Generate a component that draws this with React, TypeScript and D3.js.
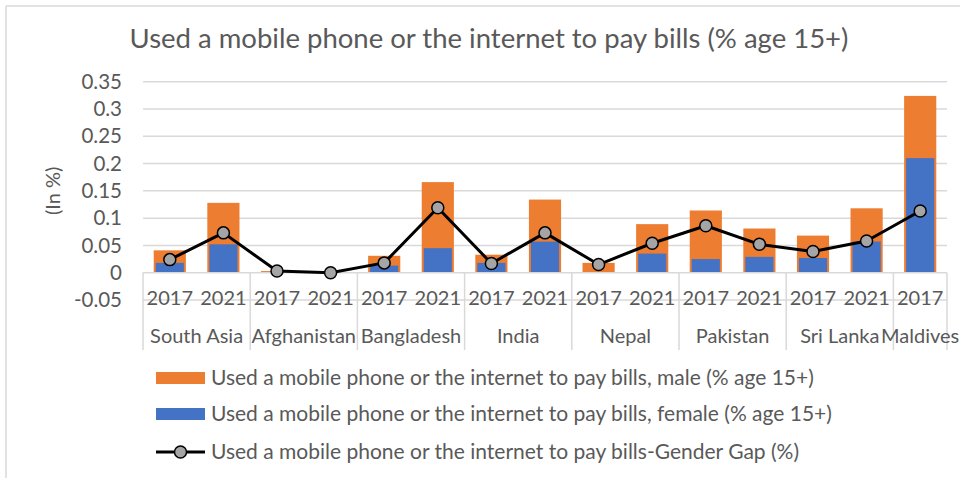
import React from "react";
import * as d3 from "d3";

const groups = ["South Asia", "Afghanistan", "Bangladesh", "India", "Nepal", "Pakistan", "Sri Lanka", "Maldives"];
const groupYears = [["2017", "2021"], ["2017", "2021"], ["2017", "2021"], ["2017", "2021"], ["2017", "2021"], ["2017", "2021"], ["2017", "2021"], ["2017"]];
const maleValues = [0.041, 0.128, 0.003, 0, 0.031, 0.166, 0.033, 0.134, 0.018, 0.089, 0.114, 0.081, 0.068, 0.118, 0.324];
const femaleValues = [0.018, 0.052, 0, 0, 0.013, 0.045, 0.018, 0.057, 0, 0.035, 0.025, 0.029, 0.027, 0.057, 0.21];
const gapValues = [0.024, 0.073, 0.003, 0, 0.018, 0.119, 0.017, 0.073, 0.015, 0.054, 0.086, 0.052, 0.039, 0.058, 0.113];
const yTicks = [-0.05, 0, 0.05, 0.1, 0.15, 0.2, 0.25, 0.3, 0.35];
const yTickLabels = ["-0.05", "0", "0.05", "0.1", "0.15", "0.2", "0.25", "0.3", "0.35"];
const title = "Used a mobile phone or the internet to pay bills (% age 15+)";
const yTitle = "(In %)";
const legendLabels = [
  "Used a mobile phone or the internet to pay bills, male (% age 15+)",
  "Used a mobile phone or the internet to pay bills, female (% age 15+)",
  "Used a mobile phone or the internet to pay bills-Gender Gap (%)",
];

const ORANGE = "#ED7D31";
const BLUE = "#4472C4";
const GRID = "#d9d9d9";
const TEXT = "#595959";
const FONT = "Lato, 'Open Sans', sans-serif";

export default function App() {
  const left = 143, right = 947, top = 81.7, bottom = 300;
  const cats: { label: string; idx: number; group: number }[] = [];
  groupYears.forEach((ys, g) => ys.forEach((y) => cats.push({ label: y, idx: cats.length, group: g })));
  const x = d3.scaleBand<number>().domain(cats.map((c) => c.idx)).range([left, right]).paddingInner(0.4).paddingOuter(0.2);
  const y = d3.scaleLinear().domain([-0.05, 0.35]).range([bottom, top]);
  const step = x.step();
  const bw = x.bandwidth();
  const cx = (i: number) => (x(i) as number) + bw / 2;
  const y0 = y(0);

  const bounds: number[] = [left];
  let acc = 0;
  groupYears.forEach((ys) => {
    acc += ys.length;
    bounds.push(left + acc * step);
  });

  const line = d3.line<number>().x((_, i) => cx(i)).y((d) => y(d));

  return (
    <svg width={960} height={478} style={{ position: "absolute", left: 0, top: 0, background: "#fff" }} fontFamily={FONT}>
      <rect x={0} y={0} width={960} height={478} fill="#fff" />
      <line x1={6} x2={6} y1={6} y2={478} stroke={GRID} strokeWidth={1.5} />
      <line x1={6} x2={960} y1={6} y2={6} stroke={GRID} strokeWidth={1.5} />
      <text x={489} y={48} textAnchor="middle" fontSize={27.5} fill={TEXT}>{title}</text>
      {yTicks.map((t) =>
        t === 0 ? null : (
          <line key={t} x1={left} x2={right} y1={y(t)} y2={y(t)} stroke={GRID} strokeWidth={1.5} />
        )
      )}
      {yTicks.map((t, i) => (
        <text key={t} x={122} y={y(t)} dy="0.35em" textAnchor="end" fontSize={20.5} fill={TEXT}>{yTickLabels[i]}</text>
      ))}
      <text transform={`translate(53,${(top + bottom) / 2}) rotate(-90)`} textAnchor="middle" dy="0.35em" fontSize={20} fill={TEXT}>{yTitle}</text>
      {maleValues.map((v, i) => (
        <rect key={"m" + i} x={x(i)} width={bw} y={y(Math.max(v, 0))} height={Math.abs(y(v) - y0)} fill={ORANGE} />
      ))}
      {femaleValues.map((v, i) => (
        <rect key={"f" + i} x={(x(i) as number) + 2} width={bw - 4} y={y(Math.max(v, 0))} height={Math.abs(y(v) - y0)} fill={BLUE} />
      ))}
      <line x1={left} x2={right} y1={y0} y2={y0} stroke={GRID} strokeWidth={1.5} />
      {bounds.map((b, i) => (
        <line key={"b" + i} x1={b} x2={b} y1={y0} y2={350} stroke={GRID} strokeWidth={1.5} />
      ))}
      {cats.map((c) => (
        <text key={"c" + c.idx} x={cx(c.idx)} y={305} textAnchor="middle" fontSize={20} fill={TEXT}>{c.label}</text>
      ))}
      {groups.map((g, i) => (
        <text key={"g" + i} x={(bounds[i] + bounds[i + 1]) / 2} y={343} textAnchor="middle" fontSize={20} fill={TEXT}>{g}</text>
      ))}
      <path d={line(gapValues) as string} fill="none" stroke="#000" strokeWidth={3} strokeLinejoin="round" />
      {gapValues.map((v, i) => (
        <circle key={"p" + i} cx={cx(i)} cy={y(v)} r={6} fill="#A5A5A5" stroke="#000" strokeWidth={1.5} />
      ))}
      <rect x={156} y={372} width={49} height={12} fill={ORANGE} />
      <text x={211} y={378} dy="0.35em" fontSize={21} fill={TEXT}>{legendLabels[0]}</text>
      <rect x={156} y={408} width={49} height={12} fill={BLUE} />
      <text x={211} y={414} dy="0.35em" fontSize={21} fill={TEXT}>{legendLabels[1]}</text>
      <line x1={156} x2={205} y1={452} y2={452} stroke="#000" strokeWidth={3} />
      <circle cx={180.5} cy={452} r={6} fill="#A5A5A5" stroke="#000" strokeWidth={1.5} />
      <text x={211} y={452} dy="0.35em" fontSize={21} fill={TEXT}>{legendLabels[2]}</text>
    </svg>
  );
}
